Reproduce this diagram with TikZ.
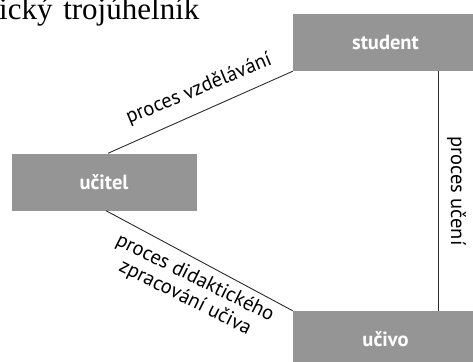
\documentclass[tikz,border=0pt]{standalone}
\usepackage{fontspec}
\setmainfont{Liberation Serif}
\newfontfamily\labelfont{PT Sans}
\definecolor{boxgray}{HTML}{959595}
\definecolor{linegray}{HTML}{2A2A2A}
\begin{document}
\begin{tikzpicture}[x=1pt,y=-1pt,
  box/.style={fill=boxgray, minimum width=185pt, minimum height=57pt, inner sep=0pt,
    text=white, font=\labelfont\bfseries\fontsize{20.5}{22}\selectfont},
  conn/.style={draw=linegray, line width=0.9pt},
  lbl/.style={inner sep=0pt, font=\labelfont\fontsize{20.5}{22}\selectfont}]
\useasboundingbox (0,0) rectangle (473,361);
\clip (0,0) rectangle (473,361);
\node[anchor=base west, inner sep=0pt, font=\fontsize{31}{34}\selectfont] (title) at (-1,20) {ický \hspace{3pt}trojúhelník};
\node[box] (student) at (385.5,42.5) {student};
\node[box] (ucitel) at (104,182) {učitel};
\node[box] (ucivo) at (385.5,339.5) {učivo};
\draw[conn] (student.south west) -- ([xshift=4pt]ucitel.north);
\draw[conn] ([xshift=2pt]ucitel.south) -- (ucivo.north west);
\draw[conn] ([xshift=52.5pt]student.south) -- ([xshift=52.5pt]ucivo.north);
\node[lbl, anchor=base west, rotate=22.5] (l1) at (129,124) {proces vzdělávání};
\node[lbl, anchor=base west, rotate=-90] (l2) at (451,136) {proces učení};
\node[lbl, anchor=base, rotate=-26.5, align=center] (l3) at (182.7,302.7) {proces didaktického\\zpracování učiva};
\end{tikzpicture}
\end{document}
